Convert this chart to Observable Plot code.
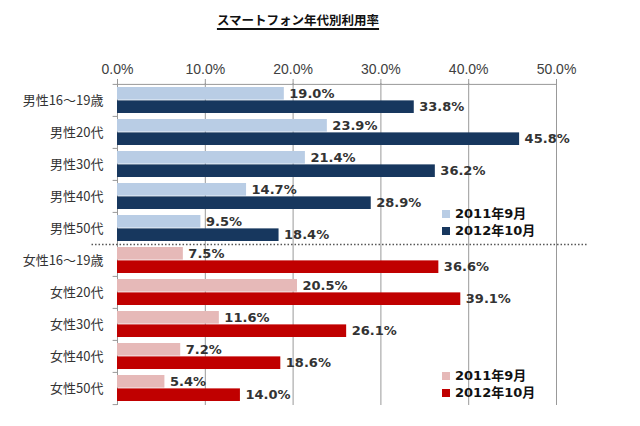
<!DOCTYPE html>
<html><head><meta charset="utf-8">
<script src="https://cdn.jsdelivr.net/npm/d3@7"></script>
<script src="https://cdn.jsdelivr.net/npm/@observablehq/plot@0.6"></script>
<style>
body{margin:0;background:#fff;font-family:"Noto Sans CJK JP",sans-serif;}
#wrap{position:relative;width:640px;height:426px;}
#title{position:absolute;left:0;top:10px;width:596px;text-align:center;font-size:12.5px;font-weight:bold;color:#111;text-decoration:underline;text-decoration-thickness:2px;text-underline-offset:3px;}
#chart{position:absolute;left:0;top:40px;}
.legend{position:absolute;font-size:13px;font-weight:bold;color:#111;line-height:17px;font-family:"DejaVu Sans","Noto Sans CJK JP",sans-serif;}
.legend span.sw{display:inline-block;width:8px;height:8px;margin-right:5px;vertical-align:0px;}
</style></head>
<body><div id="wrap"><div id="title">スマートフォン年代別利用率</div><div id="chart"></div></div>
<script>
const categories = ["男性16～19歳","男性20代","男性30代","男性40代","男性50代","女性16～19歳","女性20代","女性30代","女性40代","女性50代"];
const v2011 = [19.0, 23.9, 21.4, 14.7, 9.5, 7.5, 20.5, 11.6, 7.2, 5.4];
const v2012 = [33.8, 45.8, 36.2, 28.9, 18.4, 36.6, 39.1, 26.1, 18.6, 14.0];
const seriesLabels = ["2011年9月","2012年10月"];
const xTicks = [0, 10, 20, 30, 40, 50];
const colors = {male:["#b9cde5","#17375e"], female:["#e6b9b8","#c00000"]};

const W = 640, H = 386, mt = 43, mb = 21, ml = 117, mr = 84;
const padInner = 0.2, padOuter = 0.1;
const band = d3.scaleBand().domain(categories).range([mt, H - mb]).paddingInner(padInner).paddingOuter(padOuter);
const step = band.step(), bw = band.bandwidth();
const half = bw / 2;

const rows = categories.map((c, i) => ({cat: c, a: v2011[i], b: v2012[i], g: c.startsWith("男") ? "male" : "female"}));
const fmt = d => d.toFixed(1) + "%";
const valFont = "DejaVu Sans, sans-serif";

const chart = Plot.plot({
  width: W, height: H, marginTop: mt, marginBottom: mb, marginLeft: ml, marginRight: mr,
  style: {fontFamily: "Noto Sans CJK JP, sans-serif", background: "#fff", overflow: "visible"},
  x: {domain: [0, 50]},
  y: {domain: categories, paddingInner: padInner, paddingOuter: padOuter},
  marks: [
    Plot.gridX(xTicks.slice(1), {stroke: "#999", strokeOpacity: 1, strokeWidth: 1}),
    Plot.axisX({anchor: "top", ticks: xTicks, tickFormat: fmt, tickSize: 5, tickPadding: 5, stroke: "#999", fontSize: 14, fill: "#404040", fontFamily: "Liberation Sans, Arial, sans-serif"}),
    Plot.axisY({tickSize: 0, tickPadding: 14, fontSize: 13, fill: "#333", label: null}),
    Plot.ruleX([0], {stroke: "#999"}),
    Plot.ruleY([categories[0]], {x1: -0.5, x2: 50, stroke: "#999", dy: -step / 2}),
    Plot.ruleY(categories.slice(1).filter(c => c !== "女性16～19歳"), {x1: -0.5, x2: 0, stroke: "#999", dy: -step / 2}),
    Plot.ruleY([categories[categories.length - 1]], {x1: -0.5, x2: 0, stroke: "#999", dy: step / 2}),
    Plot.ruleY(["女性16～19歳"], {x1: -2.9, x2: 53.5, stroke: "#555", strokeWidth: 1.5, strokeDasharray: "1.5,2", dy: -step / 2}),
    Plot.barX(rows, {y: "cat", x: "a", fill: d => colors[d.g][0], insetBottom: half + 0.5}),
    Plot.barX(rows, {y: "cat", x: "b", fill: d => colors[d.g][1], insetTop: half + 0.5}),
    Plot.text(rows, {y: "cat", x: "a", text: d => fmt(d.a), dy: -bw / 4, dx: 5, textAnchor: "start", fontWeight: "bold", fontSize: 13, fill: "#333", fontFamily: valFont}),
    Plot.text(rows, {y: "cat", x: "b", text: d => fmt(d.b), dy: bw / 4, dx: 5, textAnchor: "start", fontWeight: "bold", fontSize: 13, fill: "#333", fontFamily: valFont})
  ]
});
document.getElementById("chart").appendChild(chart);

function legend(left, top, cols) {
  const d = document.createElement("div");
  d.className = "legend";
  d.style.left = left + "px"; d.style.top = top + "px";
  d.innerHTML = seriesLabels.map((s, i) => `<div><span class="sw" style="background:${cols[i]}"></span>${s}</div>`).join("");
  document.getElementById("wrap").appendChild(d);
}
legend(442, 205, colors.male);
legend(442, 367, colors.female);
</script></body></html>
